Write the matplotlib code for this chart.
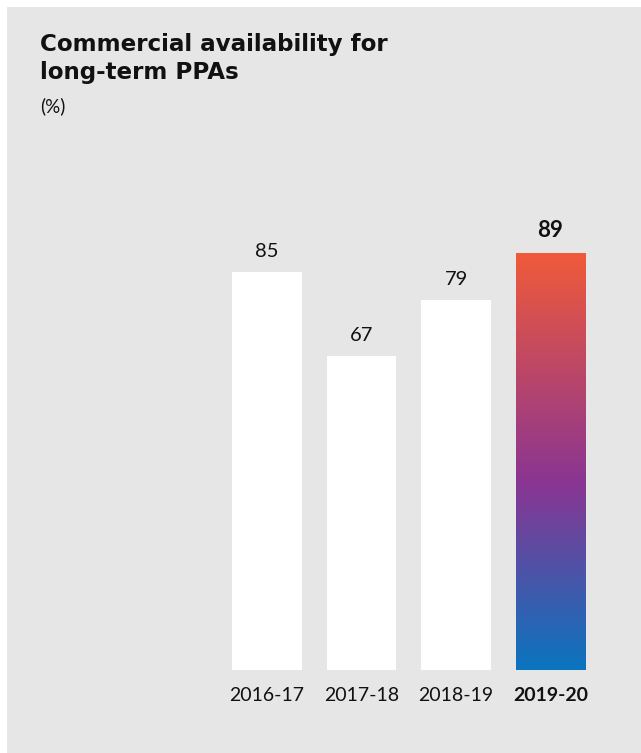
import numpy as np
import matplotlib
matplotlib.use("Agg")
import matplotlib.pyplot as plt
from matplotlib.colors import LinearSegmentedColormap
from matplotlib.patches import Rectangle

# data
years = ["2016-17", "2017-18", "2018-19", "2019-20"]
values = [85, 67, 79, 89]
highlight = 3  # index of the current year

BG = "#e6e6e6"
W, H = 641, 753

plt.rcParams["font.family"] = ["Lato", "DejaVu Sans"]

fig = plt.figure(figsize=(W / 100, H / 100), dpi=100, facecolor="white")
# grey panel (white margin on the left and top only)
fig.patches.append(Rectangle((7 / W, 0), 1 - 7 / W, 1 - 7 / H,
                             transform=fig.transFigure, facecolor=BG,
                             edgecolor="none", zorder=-5))

# axes placed in pixel coords
ax_left, ax_w = 219.75, 378
ax_bottom_px, ax_top_px = 670, 200
ax = fig.add_axes([ax_left / W, (H - ax_bottom_px) / H,
                   ax_w / W, (ax_bottom_px - ax_top_px) / H])
ax.set_zorder(2)
ax.patch.set_visible(False)
for s in ax.spines.values():
    s.set_visible(False)
ax.set_yticks([])

x = np.arange(len(years))
width = 0.74
bars = ax.bar(x, values, width=width, color="white", zorder=2)

# gradient fill for the highlighted bar
cmap = LinearSegmentedColormap.from_list(
    "grad", [(0, "#0a75bf"), (0.45, "#8a3592"), (1, "#f05a3a")])
bars[highlight].set_facecolor("none")
grad = np.linspace(0, 1, 256).reshape(-1, 1)
ax.imshow(grad, cmap=cmap, origin="lower", aspect="auto",
          extent=[x[highlight] - width / 2, x[highlight] + width / 2,
                  0, values[highlight]], zorder=3)
ax.set_xlim(-0.5, 3.5)
ax.set_ylim(0, (ax_bottom_px - ax_top_px) / 4.68)

for i, v in enumerate(values):
    bold = i == highlight
    ax.annotate(str(v), (x[i], v), xytext=(0, 9), textcoords="offset points",
                ha="center", va="bottom", fontsize=16 if bold else 14.5,
                fontweight="bold" if bold else "normal", color="#111111")

ax.set_xticks(x)
ax.set_xticklabels(years, fontsize=14, color="#111111")
ax.tick_params(axis="x", length=0, pad=12)
ax.get_xticklabels()[highlight].set_fontweight("bold")

fig.text(40 / W, 1 - 33 / H, "Commercial availability for\nlong-term PPAs",
         fontsize=16.6, fontweight="bold", va="top", ha="left",
         linespacing=1.3, color="#111111", family="DejaVu Sans")
fig.text(40 / W, 1 - 97 / H, "(%)", fontsize=13.5, va="top", ha="left",
         color="#111111")

fig.savefig("out.png", dpi=100, facecolor="white")
